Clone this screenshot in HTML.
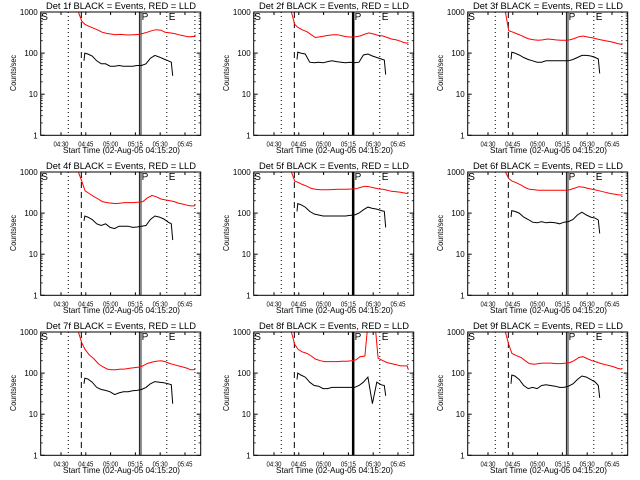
<!DOCTYPE html>
<html><head><meta charset="utf-8"><style>
html,body{margin:0;padding:0;background:#fff;}
svg{display:block;font-family:"Liberation Sans",sans-serif;}
</style></head><body>
<svg id="chart" width="640" height="480" viewBox="0 0 640 480" xmlns="http://www.w3.org/2000/svg"></svg>
<script>
// ---- data (times in minutes after 04:00) ----
const panelTitles = ["Det 1f BLACK = Events, RED = LLD","Det 2f BLACK = Events, RED = LLD","Det 3f BLACK = Events, RED = LLD","Det 4f BLACK = Events, RED = LLD","Det 5f BLACK = Events, RED = LLD","Det 6f BLACK = Events, RED = LLD","Det 7f BLACK = Events, RED = LLD","Det 8f BLACK = Events, RED = LLD","Det 9f BLACK = Events, RED = LLD"];
const redTimes = [40.5,42.5,44.5,47,50,52.5,55,58,60.5,63,66,68.5,71,74,77,79.5,82,85,87.5,90.5,93,96,98.5,101,104,106.5,108.5,110.5,111.3];
const blackTimes = [43.9,44.4,46.2,48.9,51.6,54.3,57,59.7,62.4,65.1,67.8,70.6,73.3,76,78.7,81.4,84.1,86.8,89.5,92.2,94.9,96.7,97.6];
const red1 = [1000,600,500,450,400,360,320,300,290,280,285,280,275,280,285,300,320,350,370,360,320,310,300,280,265,250,250,255,280];
const red2 = [1000,500,420,370,330,280,240,250,260,270,280,280,265,250,245,250,260,290,310,290,270,260,240,220,210,195,180,175,180];
const red3 = [1000,350,330,300,270,240,220,210,205,210,220,215,210,205,205,210,225,250,260,245,235,220,210,200,190,180,170,165,170];
const red4 = [1000,600,350,300,250,220,190,180,175,170,175,180,180,180,185,190,230,270,250,220,210,200,190,175,165,155,150,150,160];
const red5 = [1000,600,560,500,450,400,380,370,370,370,375,380,380,380,385,390,420,450,440,410,390,380,360,340,330,320,310,300,310];
const red6 = [1000,700,600,550,480,420,380,370,360,360,360,360,360,360,360,370,400,440,430,400,380,360,340,320,300,290,280,275,280];
const red7 = [1000,550,380,280,220,170,145,125,120,120,125,125,130,135,140,150,170,185,195,200,190,170,160,150,140,130,120,120,125];
const red8 = [1000,500,380,330,300,260,220,200,190,190,190,190,195,195,200,210,250,260,3000,3000,230,200,180,170,160,150,150,150,120];
const red9 = [1000,500,300,270,240,200,170,165,170,175,175,175,170,170,175,180,200,240,250,220,200,185,170,160,150,140,130,125,130];
const black1 = [65,100,95,85,65,55,55,48,48,50,48,48,48,50,50,55,75,88,80,72,65,60,28];
const black2 = [70,105,100,95,60,58,60,58,62,65,62,60,58,60,58,60,90,95,85,78,72,68,30];
const black3 = [70,105,100,90,78,70,65,60,60,65,65,65,65,65,65,70,78,88,88,85,78,72,32];
const black4 = [65,85,80,70,55,50,55,45,42,48,48,48,45,46,48,50,70,85,80,72,60,55,22];
const black5 = [110,170,160,140,110,95,90,85,85,85,85,85,85,88,90,100,120,140,130,125,115,110,45];
const black6 = [80,115,110,100,80,70,60,58,62,58,60,58,55,60,62,70,90,105,90,80,75,68,32];
const black7 = [55,75,72,60,45,40,38,35,30,33,35,35,37,38,40,45,55,62,60,58,55,52,18];
const black8 = [70,100,90,80,60,50,48,42,42,45,45,45,45,45,45,50,60,80,18,60,52,50,28];
const black9 = [55,90,85,70,50,42,45,42,50,52,50,48,45,45,48,55,70,85,80,70,60,50,25];
const redSeries = [red1,red2,red3,red4,red5,red6,red7,red8,red9];
const blackSeries = [black1,black2,black3,black4,black5,black6,black7,black8,black9];
const yTickValues = [1,10,100,1000];
const yTickLabels = ["1","10","100","1000"];
const xTickTimes = [30,45,60,75,90,105];
const xTickLabels = ["04:30","04:45","05:00","05:15","05:30","05:45"];
const markerTimes = [34.4,42.3,77.9,94,111];

const svg = document.getElementById('chart');
const NS = 'http://www.w3.org/2000/svg';
function mk(tag, attrs, parent){ const e=document.createElementNS(NS,tag); for(const k in attrs) e.setAttribute(k,attrs[k]); (parent||svg).appendChild(e); return e; }

const colOff=[0,213,427], rowOff=[0,160,320];
for(let p=0;p<9;p++){
  const ox=colOff[p%3], oy=rowOff[Math.floor(p/3)];
  const L=ox+40.7, R=ox+200.7, T=oy+12, B=oy+135.3;
  const xs = t => ox+61+(t-30)*1.653;
  const ys = v => B-Math.log10(v)*41.1;
  const g = mk('g',{});
  
  
  const cp = mk('clipPath',{id:'clip'+p},g);
  mk('rect',{x:L,y:T,width:R-L,height:B-T},cp);
  const title = mk('text',{x:ox+46,y:oy+9,'font-size':9,textLength:150,lengthAdjust:'spacingAndGlyphs',fill:'#000'},g);
  title.textContent = panelTitles[p];
  
  
  // markers
  const mg = mk('g',{'clip-path':'url(#clip'+p+')'},g);
  markerTimes.forEach((t,i)=>{
    const x=xs(t);
    if(i===2){
      if(p%3===1){ const l=mk('line',{x1:x,x2:x,y1:T,y2:B,stroke:'#000','stroke-width':2.5},mg);   }
      else { [-0.8,0.8].forEach(d=>{ const l=mk('line',{x1:x+d,x2:x+d,y1:T,y2:B,stroke:'#000','stroke-width':0.9},mg);   }); }
    } else {
      const l=mk('line',{x1:x,x2:x,y1:T,y2:B,stroke:'#000','stroke-width':1,'stroke-dasharray':i===1?'6,4':'1,3'},mg);
      
      
    }
  });
  // series
  const rp = redSeries[p].map((v,i)=>xs(redTimes[i]).toFixed(1)+','+ys(v).toFixed(1)).join(' ');
  const rl = mk('polyline',{points:rp,fill:'none',stroke:'#ff0000','stroke-width':1},mg);
  
  
  const bp = blackSeries[p].map((v,i)=>xs(blackTimes[i]).toFixed(1)+','+ys(v).toFixed(1)).join(' ');
  const bl = mk('polyline',{points:bp,fill:'none',stroke:'#000','stroke-width':1},mg);
  
  
  // frame
  const fr = mk('rect',{x:L,y:T,width:R-L,height:B-T,fill:'none',stroke:'#000','stroke-width':1},g);
  
  
  // letters
  [['S',L+0.5],['P',xs(markerTimes[2])+1.5],['E',xs(markerTimes[3])+2]].forEach(([s,x])=>{
    const t=mk('text',{x:x,y:T+8,'font-size':10,fill:'#000'},g); t.textContent=s;
    
    
  });
  // y ticks (major + minor)
  for(let d=0; d<3; d++){
    for(let m=2;m<10;m++){
      const y=ys(m*Math.pow(10,d));
      mk('line',{x1:L,x2:L+2,y1:y,y2:y,stroke:'#000','stroke-width':0.8},g);
      mk('line',{x1:R-2,x2:R,y1:y,y2:y,stroke:'#000','stroke-width':0.8},g);
    }
  }
  yTickValues.forEach((v,i)=>{
    const y=ys(v);
    mk('line',{x1:L,x2:L+4,y1:y,y2:y,stroke:'#000'},g);
    mk('line',{x1:R-4,x2:R,y1:y,y2:y,stroke:'#000'},g);
    const t=mk('text',{x:L-3,y:y+3,'font-size':8,'text-anchor':'end',fill:'#000'},g);
    t.textContent=yTickLabels[i];
    
    
  });
  xTickTimes.forEach((tm,i)=>{
    const x=xs(tm);
    mk('line',{x1:x,x2:x,y1:B,y2:B-3,stroke:'#000'},g);
    mk('line',{x1:x,x2:x,y1:T,y2:T+3,stroke:'#000'},g);
    const t=mk('text',{x:x-7.5,y:B+11,'font-size':7.5,textLength:15,lengthAdjust:'spacingAndGlyphs',fill:'#000'},g);
    t.textContent=xTickLabels[i];
    
    
  });
  const xl=mk('text',{x:ox+63,y:oy+153,'font-size':8.5,textLength:117,lengthAdjust:'spacingAndGlyphs',fill:'#000'},g);
  xl.textContent='Start Time (02-Aug-05 04:15:20)';
  
  
  const yl=mk('text',{x:-18,y:0,'font-size':8,textLength:36,lengthAdjust:'spacingAndGlyphs',fill:'#000',transform:'translate('+(ox+16)+','+(oy+73)+') rotate(-90)'},g);
  yl.textContent='Counts/sec';
  
  
}
</script>
</body></html>
